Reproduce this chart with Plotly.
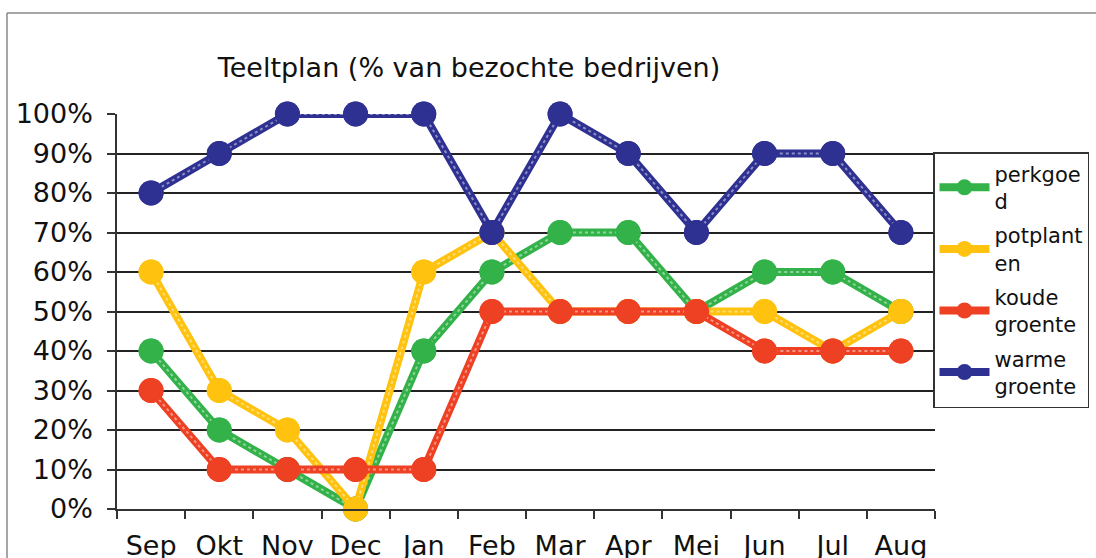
import plotly.graph_objects as go

months = ["Sep", "Okt", "Nov", "Dec", "Jan", "Feb", "Mar", "Apr", "Mei", "Jun", "Jul", "Aug"]
perkgoed = [40, 20, 10, 0, 40, 60, 70, 70, 50, 60, 60, 50]
potplanten = [60, 30, 20, 0, 60, 70, 50, 50, 50, 50, 40, 50]
koude_groente = [30, 10, 10, 10, 10, 50, 50, 50, 50, 40, 40, 40]
warme_groente = [80, 90, 100, 100, 100, 70, 100, 90, 70, 90, 90, 70]

series = [
    ("perkgoe<br>d", perkgoed, "#33b24a"),
    ("potplant<br>en", potplanten, "#ffc20e"),
    ("koude<br>groente", koude_groente, "#ee4023"),
    ("warme<br>groente", warme_groente, "#2e3192"),
]

fig = go.Figure()
for name, vals, col in series:
    fig.add_trace(go.Scatter(
        x=months, y=vals, name=name, mode="lines+markers",
        line=dict(color=col, width=8),
        marker=dict(color=col, size=25),
        cliponaxis=False, legendgroup=name,
    ))
    # light dotted texture inside the thick line
    fig.add_trace(go.Scatter(
        x=months, y=vals, mode="lines", showlegend=False, hoverinfo="skip",
        line=dict(color="rgba(255,255,255,0.45)", width=2, dash="dot"),
        legendgroup=name,
    ))
    fig.add_trace(go.Scatter(
        x=months, y=vals, mode="markers", showlegend=False, hoverinfo="skip",
        marker=dict(color=col, size=25), cliponaxis=False, legendgroup=name,
    ))

L, R, T, B = 117, 935, 114, 509
W, H = 1096, 558
pw, ph = R - L, B - T

def px(x):
    return (x - L) / pw

def py(y):
    return (B - y) / ph

fig.update_layout(
    width=W, height=H,
    margin=dict(l=L, r=W - R, t=T, b=H - B, pad=0, autoexpand=False),
    paper_bgcolor="white", plot_bgcolor="white",
    font=dict(family="DejaVu Sans, Verdana, sans-serif", color="#111111", size=27),
    showlegend=True,
    legend=dict(
        x=px(933), y=py(152), xanchor="left", yanchor="top",
        bordercolor="#333333", borderwidth=1.5,
        font=dict(size=21), itemwidth=50, tracegroupgap=4,
        bgcolor="white",
    ),
    title=dict(
        text="Teeltplan (% van bezochte bedrijven)",
        x=px(469), xanchor="center", xref="paper",
        y=(H - 68) / H, yanchor="middle",
        font=dict(size=27, color="#111111"),
    ),
    xaxis=dict(
        range=[-0.5, 11.5], showgrid=False, showline=True, linecolor="#333333", linewidth=1.5,
        ticks="outside", tickson="boundaries", ticklen=8, tickcolor="#333333", tickwidth=1.5,
        tickfont=dict(size=27), fixedrange=True, ticklabelstandoff=12,
    ),
    yaxis=dict(
        range=[0, 100], tickvals=list(range(0, 101, 10)),
        ticktext=[f"{v}%" for v in range(0, 101, 10)],
        showgrid=True, gridcolor="#222222", gridwidth=1.5,
        zeroline=False, showline=True, linecolor="#333333", linewidth=1.5,
        ticks="outside", ticklen=8, tickcolor="#333333", tickwidth=1.5,
        tickfont=dict(size=27), fixedrange=True, ticklabelstandoff=9,
    ),
    shapes=[
        dict(type="line", xref="paper", yref="paper", x0=px(7), x1=px(1096), y0=py(13), y1=py(13),
             line=dict(color="#888888", width=1.5)),
        dict(type="line", xref="paper", yref="paper", x0=px(7), x1=px(7), y0=py(13), y1=py(558),
             line=dict(color="#888888", width=1.5)),
    ],
)

fig.write_html(
    "out.html",
    config={"displayModeBar": False},
    post_script="document.body.style.margin='0';document.body.style.overflow='hidden';",
)
